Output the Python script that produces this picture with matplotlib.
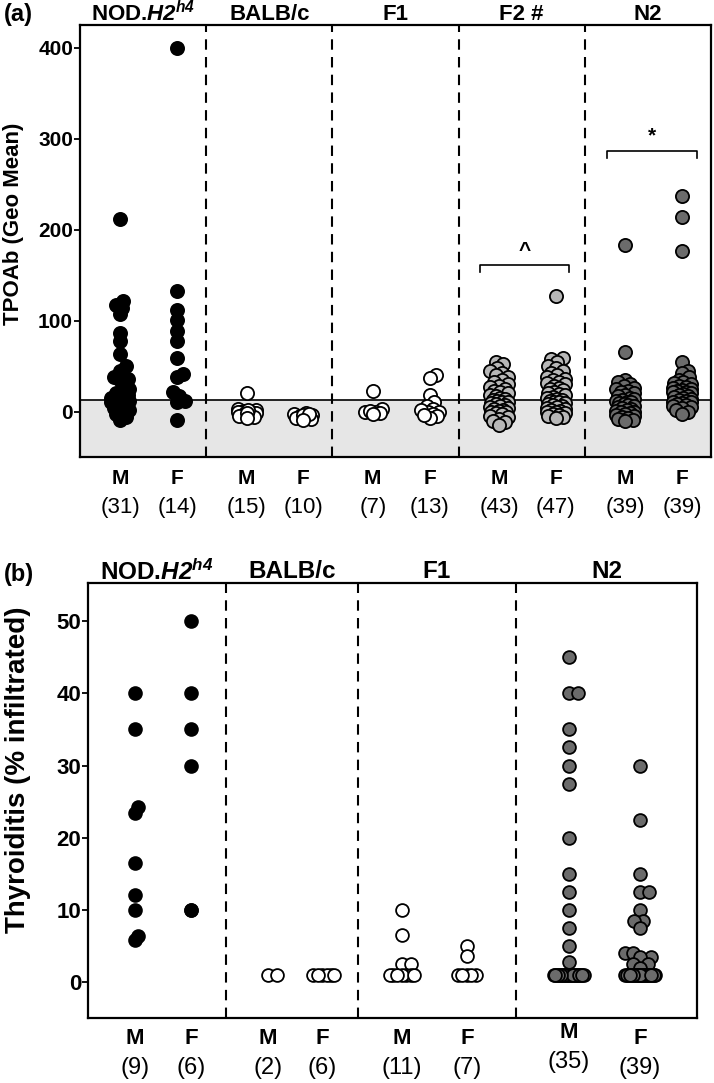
import numpy as np
import matplotlib
matplotlib.use("Agg")
import matplotlib.pyplot as plt

plt.rcParams['font.family'] = ['Liberation Sans', 'DejaVu Sans']
plt.rcParams['font.weight'] = 'bold'
plt.rcParams['axes.labelweight'] = 'bold'
plt.rcParams['mathtext.fontset'] = 'custom'
plt.rcParams['mathtext.rm'] = 'Liberation Sans:bold:italic'
plt.rcParams['mathtext.it'] = 'Liberation Sans:bold:italic'

# ---------------- data: panel (a) TPOAb ----------------
groups_a = ["NOD.$H2^{h4}$", "BALB/c", "F1", "F2 #", "N2"]
counts_a = [(31, 14), (15, 10), (7, 13), (43, 47), (39, 39)]

nod_m_a = [212, 121, 117, 114, 107, 86, 78, 63, 50, 45, 38, 36, 35, 25, 22, 20,
           18, 16, 15, 14, 13, 12, 10, 8, 6, 4, 2, 0, -3, -6, -9]
nod_f_a = [400, 132, 112, 101, 89, 77, 59, 41, 38, 21, 17, 12, 10, -9]
balb_m_a = [20, 3, 2, 1, 0, 0, -1, -2, -3, -4, -5, -6, 2, -2, -7]
balb_f_a = [-2, -3, -4, -5, -6, -7, -8, -4, -3, -9]
f1_m_a = [23, 3, 0, -1, -2, 1, -3]
f1_f_a = [40, 37, 18, 10, 6, 3, 0, -1, -3, -5, -7, 2, -4]
f2_m_a = [55, 52, 48, 45, 42, 40, 38, 35, 33, 30, 28, 27, 25, 23, 22, 20, 18, 17,
          15, 14, 13, 12, 11, 10, 9, 8, 7, 6, 5, 4, 3, 2, 1, 0, -1, -2, -3, -5,
          -6, -8, -10, -12, -15]
f2_f_a = [127, 59, 58, 55, 50, 48, 45, 42, 40, 38, 36, 35, 33, 31, 30, 28, 26,
          25, 24, 22, 20, 19, 18, 16, 15, 14, 13, 12, 11, 10, 9, 8, 7, 6, 5, 4,
          3, 2, 1, 0, -1, -2, -3, -4, -5, -6, -7]
n2_m_a = [183, 66, 35, 32, 30, 28, 26, 25, 23, 22, 20, 18, 17, 15, 14, 13, 12,
          11, 10, 9, 8, 7, 6, 5, 4, 3, 2, 1, 0, -1, -2, -3, -4, -5, -6, -7, -8,
          -9, -10]
n2_f_a = [237, 214, 176, 54, 45, 42, 38, 35, 33, 31, 30, 28, 27, 26, 25, 24, 23,
          22, 21, 20, 19, 18, 17, 16, 15, 14, 13, 12, 11, 10, 9, 8, 7, 6, 5, 4,
          2, 0, -3]
series_a = [(nod_m_a, nod_f_a), (balb_m_a, balb_f_a), (f1_m_a, f1_f_a),
            (f2_m_a, f2_f_a), (n2_m_a, n2_f_a)]
cutoff_a = 13

# ---------------- data: panel (b) thyroiditis ----------------
groups_b = ["NOD.$H2^{h4}$", "BALB/c", "F1", "N2"]
counts_b = [(9, 6), (2, 6), (11, 7), (35, 39)]

nod_m_b = [40, 35, 24.3, 23.4, 16.5, 12, 10, 6.3, 5.8]
nod_f_b = [50, 40, 35, 30, 10, 10]
balb_m_b = [1, 1]
balb_f_b = [1, 1, 1, 1, 1, 1]
f1_m_b = [10, 6.5, 2.5, 2.5, 1, 1, 1, 1, 1, 1, 1]
f1_f_b = [5, 3.6, 1, 1, 1, 1, 1]
n2_m_b = [45, 40, 40, 35, 32.5, 30, 27.5, 20, 15, 12.5, 10, 7.5, 5, 2.8] + [1] * 21
n2_f_b = [30, 22.5, 15, 12.5, 12.5, 10, 8.5, 8.5, 7.5, 4, 4, 3.5, 3.5, 2.5, 2.5,
          2] + [1] * 23
series_b = [(nod_m_b, nod_f_b), (balb_m_b, balb_f_b), (f1_m_b, f1_f_b),
            (n2_m_b, n2_f_b)]

# ---------------- styles / layout ----------------
colors_a = ['black', 'white', 'white', '#b8b8b8', '#6b6b6b']
colors_b = ['black', 'white', 'white', '#6b6b6b']
xpos_a = [(g + 0.32, g + 0.77) for g in range(5)]
edges_b = [0.906, 1.773, 2.811]
xpos_b = [(0.309, 0.677), (1.182, 1.537), (2.062, 2.489), (3.159, 3.626)]
centers_b = [0.453, 1.34, 2.292, 3.405]
spread_b = [(3, 0), (13, 13), (13, 13), (16, 16)]

W, H = 714, 1083
fig = plt.figure(figsize=(W / 100, H / 100), dpi=100)
ax_a = fig.add_axes([80 / W, 1 - 457 / H, 631 / W, 432 / H])
ax_b = fig.add_axes([88 / W, 1 - 1018 / H, 609 / W, 435 / H])


def swarm(ax, x0, vals, diam, min_frac, max_half, step=1.5):
    # simple beeswarm: offsets in pixels, returned in data units
    tr = ax.transData
    cx = tr.transform((x0, 0))[0]
    ppx = tr.transform((x0 + 1, 0))[0] - cx
    vals = np.asarray(vals, dtype=float)
    order = np.argsort(vals)
    offs = np.zeros(len(vals))
    placed = []
    cands = [0.0]
    k = 1
    while k * step <= max_half:
        cands += [k * step, -k * step]
        k += 1
    for i in order:
        yp = tr.transform((x0, vals[i]))[1]
        best, best_d, best_c = None, -1, 0.0
        for c in cands:
            d = min([np.hypot(cx + c - px, yp - py) for px, py in placed] + [1e9])
            if d >= diam * min_frac:
                best = c
                break
            if d > best_d:
                best_d, best_c = d, c
        if best is None:
            best = best_c
        placed.append((cx + best, yp))
        offs[i] = best / ppx
    return x0 + offs


def dress(ax, ylim, yticks, ylabel, ylsize, tsize, lab_xy):
    ax.set_ylim(*ylim)
    ax.set_yticks(yticks)
    ax.set_xticks([])
    ax.tick_params(axis='y', direction='out', length=4, width=1.3,
                   labelsize=tsize, pad=1)
    for s in ax.spines.values():
        s.set_linewidth(1.6)
    ax.set_ylabel(ylabel, fontsize=ylsize)
    ax.yaxis.set_label_coords(*lab_xy)


# ---------------- panel (a) ----------------
ax_a.set_xlim(0, 5)
dress(ax_a, (-50, 425), [0, 100, 200, 300, 400], "TPOAb (Geo Mean)", 16, 15,
      (-0.089, 0.54))
ax_a.axhspan(-50, cutoff_a, color='#e6e6e6', zorder=0, lw=0)
ax_a.axhline(cutoff_a, color='black', lw=1.2, zorder=1)
for g in range(1, 5):
    ax_a.axvline(g, color='black', lw=1.5, ls=(0, (5, 3.5)), zorder=1)

for gi, (pair, col) in enumerate(zip(series_a, colors_a)):
    for si, vals in enumerate(pair):
        xs = swarm(ax_a, xpos_a[gi][si], vals, 13, 0.5, 9)
        ax_a.scatter(xs, vals, s=90, c=col, edgecolors='black', linewidths=1.3,
                     zorder=3)
        lab = "M" if si == 0 else "F"
        ax_a.annotate(lab, xy=(xpos_a[gi][si], 0), xycoords=('data', 'axes fraction'),
                      xytext=(0, -22), textcoords='offset pixels', ha='center',
                      va='center', fontsize=15)
        ax_a.annotate("(%d)" % counts_a[gi][si], xy=(xpos_a[gi][si], 0),
                      xycoords=('data', 'axes fraction'), xytext=(0, -51),
                      textcoords='offset pixels', ha='center', va='center',
                      fontsize=16, fontweight='normal')
    ax_a.annotate(groups_a[gi], xy=(gi + 0.5, 1), xycoords=('data', 'axes fraction'),
                  xytext=(0, 11), textcoords='offset pixels', ha='center',
                  va='center', fontsize=16)

# significance brackets
for (x1, x2, yb, sym) in [(3.17, 3.875, 161, "^"), (4.176, 4.89, 287, "*")]:
    ax_a.plot([x1, x1, x2, x2], [yb - 8, yb, yb, yb - 8], color='black', lw=1.2)
    ax_a.text((x1 + x2) / 2, yb + 6, sym, ha='center', va='bottom', fontsize=15)

# ---------------- panel (b) ----------------
ax_b.set_xlim(0, 4)
dress(ax_b, (-5, 55.3), [0, 10, 20, 30, 40, 50], "Thyroiditis (% infiltrated)",
      20, 16, (-0.094, 0.57))
for e in edges_b:
    ax_b.axvline(e, color='black', lw=1.5, ls=(0, (5, 3.5)), zorder=1)

for gi, (pair, col) in enumerate(zip(series_b, colors_b)):
    for si, vals in enumerate(pair):
        xs = swarm(ax_b, xpos_b[gi][si], vals, 13, 0.6, spread_b[gi][si])
        ax_b.scatter(xs, vals, s=85, c=col, edgecolors='black', linewidths=1.3,
                     zorder=3)
        lab = "M" if si == 0 else "F"
        dy = 14 if gi == 3 and si == 0 else 20
        ax_b.annotate(lab, xy=(xpos_b[gi][si], 0), xycoords=('data', 'axes fraction'),
                      xytext=(0, -dy), textcoords='offset pixels', ha='center',
                      va='center', fontsize=16)
        ax_b.annotate("(%d)" % counts_b[gi][si], xy=(xpos_b[gi][si], 0),
                      xycoords=('data', 'axes fraction'), xytext=(0, -dy - 30),
                      textcoords='offset pixels', ha='center', va='center',
                      fontsize=17, fontweight='normal')
    ax_b.annotate(groups_b[gi], xy=(centers_b[gi], 1), xycoords=('data', 'axes fraction'),
                  xytext=(0, 11), textcoords='offset pixels', ha='center',
                  va='center', fontsize=17.5)

fig.text(4 / W, 1 - 15 / H, "(a)", fontsize=17, ha='left', va='center')
fig.text(4 / W, 1 - 575 / H, "(b)", fontsize=17, ha='left', va='center')

fig.savefig("out.png", dpi=100)
